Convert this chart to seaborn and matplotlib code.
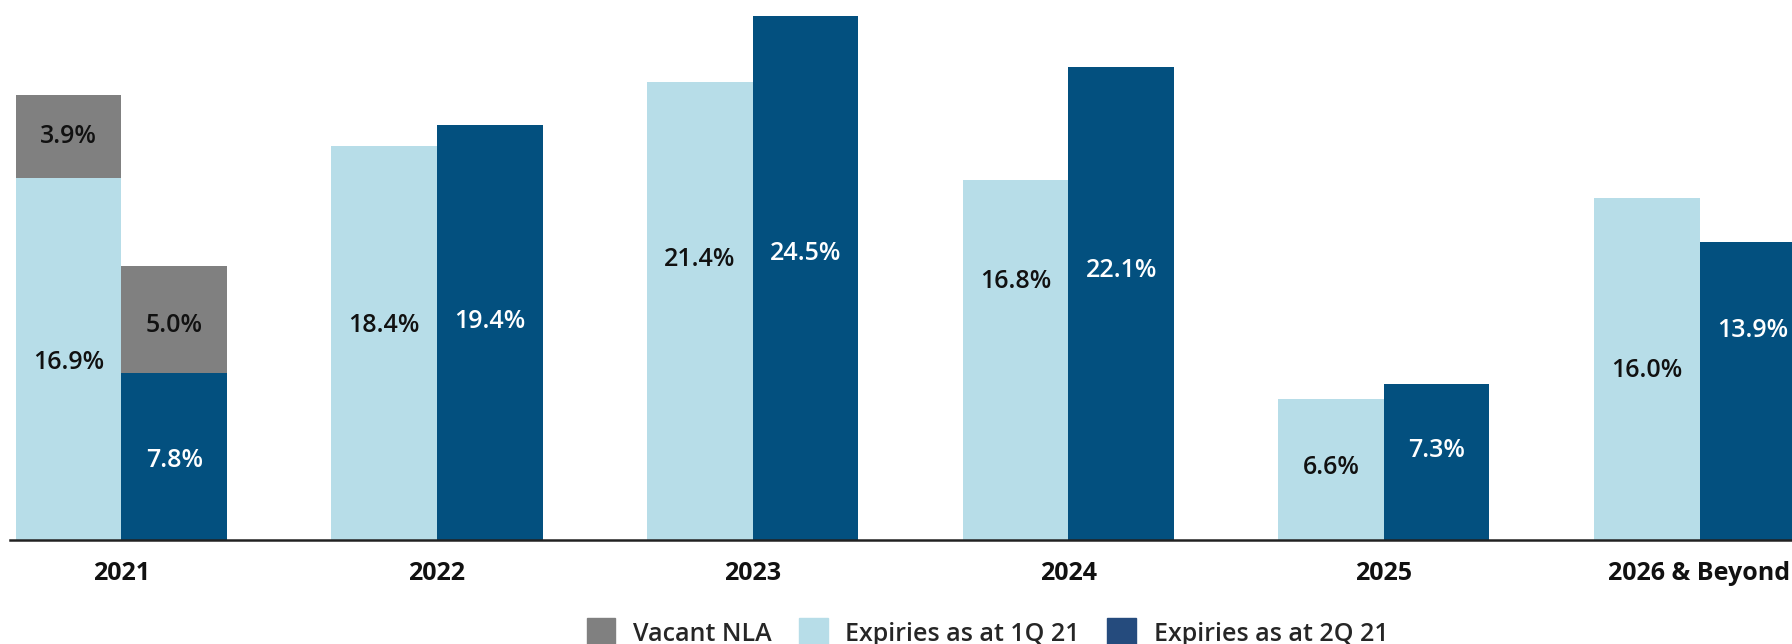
import matplotlib
matplotlib.use("Agg")
import matplotlib.pyplot as plt
from matplotlib.patches import Patch
import seaborn as sns
import pandas as pd

# data
years = ["2021", "2022", "2023", "2024", "2025", "2026 & Beyond"]
series = ["Expiries as at 1Q 21", "Expiries as at 2Q 21"]
expiries_1q = [16.9, 18.4, 21.4, 16.8, 6.6, 16.0]
expiries_2q = [7.8, 19.4, 24.5, 22.1, 7.3, 13.9]
vacant_1q = [3.9, 0, 0, 0, 0, 0]
vacant_2q = [5.0, 0, 0, 0, 0, 0]

# where the value labels sit inside the bars (in %)
label_y_1q = [8.3, 10.0, 13.1, 12.1, 3.4, 7.9]
label_y_2q = [3.7, 10.2, 13.4, 12.6, 4.2, 9.8]

gray = "#808080"
light = "#B7DDE8"
dark = "#03507F"
legend_dark = "#254B7D"

df = pd.DataFrame({
    "year": years * 2,
    "series": [series[0]] * len(years) + [series[1]] * len(years),
    "expiry": expiries_1q + expiries_2q,
    "vacant": vacant_1q + vacant_2q,
})
df["total"] = df["expiry"] + df["vacant"]

sns.set_style("white")
plt.rcParams["font.family"] = ["Open Sans", "DejaVu Sans"]

fig = plt.figure(figsize=(17.92, 6.44), dpi=100)
ax = fig.add_axes([10 / 1792, 104 / 644, 1782 / 1792, 540 / 644])

# vacant space stacked on top: draw totals in gray, then expiries over them
sns.barplot(data=df, x="year", y="total", hue="series", palette=[gray, gray],
            width=0.669, saturation=1, linewidth=0, legend=False, ax=ax)
sns.barplot(data=df, x="year", y="expiry", hue="series", palette=[light, dark],
            width=0.669, saturation=1, linewidth=0, legend=False, ax=ax)

ax.set_xlim(-0.353, 5.293)
ax.set_ylim(0, 25.23)

lbl = dict(ha="center", va="center", fontsize=18, fontweight="semibold")
c_tot1, c_tot2, c_exp1, c_exp2 = ax.containers
for i in range(len(years)):
    b1 = c_exp1[i]
    b2 = c_exp2[i]
    ax.text(b1.get_x() + b1.get_width() / 2, label_y_1q[i], f"{expiries_1q[i]:.1f}%",
            color="#111111", **lbl)
    ax.text(b2.get_x() + b2.get_width() / 2, label_y_2q[i], f"{expiries_2q[i]:.1f}%",
            color="white", **lbl)
    if vacant_1q[i] > 0:
        ax.text(b1.get_x() + b1.get_width() / 2, expiries_1q[i] + vacant_1q[i] / 2,
                f"{vacant_1q[i]:.1f}%", color="#111111", **lbl)
    if vacant_2q[i] > 0:
        ax.text(b2.get_x() + b2.get_width() / 2, expiries_2q[i] + vacant_2q[i] / 2 - 0.3,
                f"{vacant_2q[i]:.1f}%", color="#111111", **lbl)

ax.set_xlabel("")
ax.set_ylabel("")
ax.set_yticks([])
ax.tick_params(axis="x", length=0, pad=15)
for t in ax.get_xticklabels():
    t.set_fontsize(18)
    t.set_fontweight("bold")
    t.set_color("#111111")

for s in ["top", "right", "left"]:
    ax.spines[s].set_visible(False)
ax.spines["bottom"].set_color("#222222")
ax.spines["bottom"].set_linewidth(1.8)

handles = [Patch(color=gray, label="Vacant NLA"),
           Patch(color=light, label=series[0]),
           Patch(color=legend_dark, label=series[1])]
fig.legend(handles=handles, loc="center", bbox_to_anchor=(0.551, 0.018), ncol=3,
           frameon=False, prop={"size": 18, "weight": "semibold"},
           handlelength=1.15, handleheight=1.45, columnspacing=1.1, handletextpad=0.7)

fig.savefig("out.png", dpi=100)
